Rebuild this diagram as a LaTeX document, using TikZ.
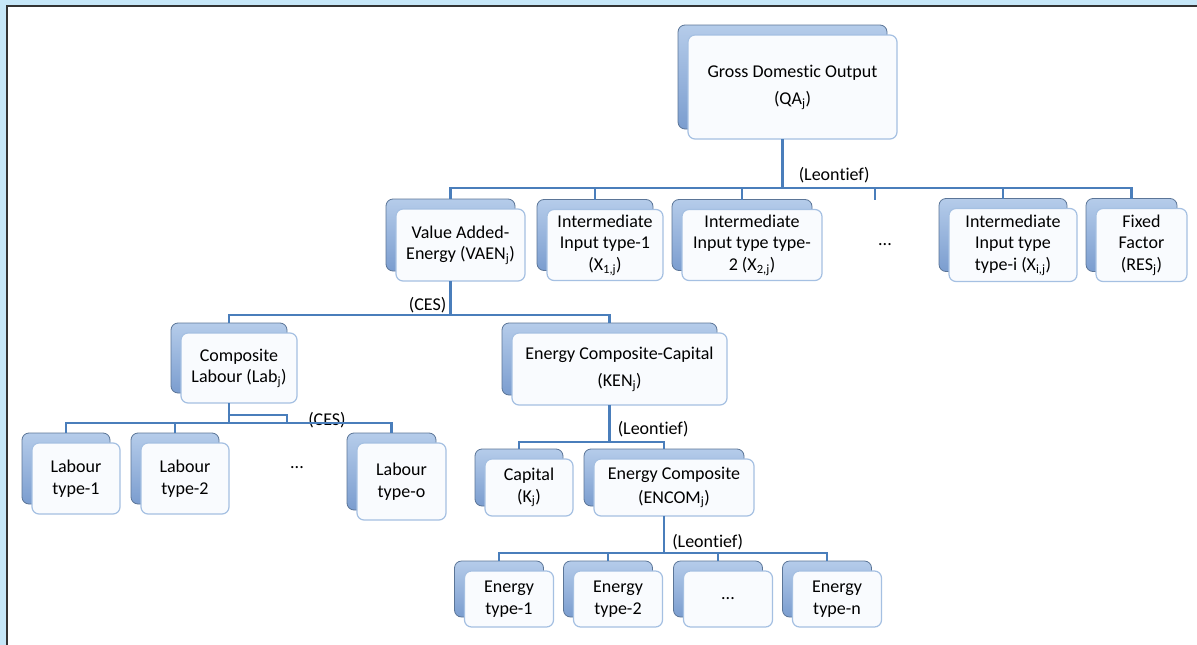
\documentclass[tikz,border=0pt]{standalone}
\usepackage{fontspec}
\setmainfont{Carlito}[Ligatures=CommonOff]
\usepackage{tikz}
\usetikzlibrary{positioning}
\usetikzlibrary{shadows}
\definecolor{linkblue}{HTML}{4A7EBB}
\definecolor{backtop}{HTML}{B5CCEA}
\definecolor{backbot}{HTML}{7B9DCF}
\definecolor{backline}{HTML}{5B7597}
\definecolor{frontline}{HTML}{A5C0E2}
\definecolor{frontfill}{HTML}{F9FBFE}
\definecolor{framebg}{HTML}{C6E7F8}
\tikzstyle{stackbox} = [rectangle, rounded corners=7pt, draw=frontline, fill=frontfill, line width=1.2pt, inner sep=0pt, outer sep=0pt, text centered, font=\fontsize{18}{21.5}\selectfont, general shadow={shadow xshift=-10pt, shadow yshift=10pt, draw=backline, line width=0.8pt, top color=backtop, bottom color=backbot}]
\tikzstyle{dotsbox} = [rectangle, inner sep=0pt, outer sep=0pt, text centered, font=\fontsize{18}{21.5}\selectfont]
\tikzstyle{elast} = [inner sep=0pt, font=\fontsize{18}{21.5}\selectfont]
\tikzstyle{link} = [line width=2.5pt, draw=linkblue]

\begin{document}
\begin{tikzpicture}[x=1pt, y=-1pt, every text node part/.style={align=center}]
		
		\useasboundingbox (0,0) rectangle (1197,645);
		\fill [framebg] (0,0) rectangle (1197,645);
		\fill [white] (7,6) rectangle (1197,645);
		\draw [line width=1.8pt, black!80] (7,645) -- (7,6) -- (1197,6);
		
		\node (gdo) [stackbox, minimum width=209pt, minimum height=104pt] at (792.5,87) {Gross Domestic Output\\[6pt](QA\textsubscript{j})};
		
		\node (vaen) [stackbox, minimum width=129pt, minimum height=72pt] at (460.5,245) {Value Added-\\Energy (VAEN\textsubscript{j})};
		
		\node (int1) [stackbox, minimum width=116pt, minimum height=71pt, right = 22pt of vaen] {Intermediate\\Input type-1\\(X\textsubscript{1,j})};
		
		\node (int2) [stackbox, minimum width=140pt, minimum height=71pt, right = 19pt of int1] {Intermediate\\Input type type-\\2 (X\textsubscript{2,j})};
		
		\node (dotsI) [dotsbox, minimum width=88pt, minimum height=71pt, right = 19pt of int2] {...};
		
		\node (inti) [stackbox, minimum width=128pt, minimum height=73pt, right = 20pt of dotsI] {Intermediate\\Input type\\type-i (X\textsubscript{i,j})};
		
		\node (fixed) [stackbox, minimum width=91pt, minimum height=73pt, right = 19pt of inti] {Fixed\\Factor\\(RES\textsubscript{j})};
		
		\node (lab) [stackbox, minimum width=116pt, minimum height=70pt] at (239,368) {Composite\\Labour (Lab\textsubscript{j})};
		
		\node (ken) [stackbox, minimum width=215pt, minimum height=72pt] at (619.5,369) {Energy Composite-Capital\\[6pt](KEN\textsubscript{j})};
		
		\node (lab1) [stackbox, minimum width=88pt, minimum height=71pt] at (76,478.5) {Labour\\type-1};
		
		\node (lab2) [stackbox, minimum width=88pt, minimum height=71pt, right = 21pt of lab1] {Labour\\type-2};
		
		\node (dotsL) [dotsbox, minimum width=88pt, minimum height=70pt] at (297,468) {...};
		
		\node (labo) [stackbox, minimum width=89pt, minimum height=77pt] at (401.5,481.5) {Labour\\type-o};
		
		\node (cap) [stackbox, minimum width=88pt, minimum height=57pt] at (529,487.5) {Capital\\(K\textsubscript{j})};
		
		\node (encom) [stackbox, minimum width=160pt, minimum height=57pt, right = 21pt of cap] {Energy Composite\\[2pt](ENCOM\textsubscript{j})};
		
		\node (e1) [stackbox, minimum width=89pt, minimum height=56pt] at (509,599) {Energy\\type-1};
		
		\node (e2) [stackbox, minimum width=89pt, minimum height=56pt, right = 20pt of e1] {Energy\\type-2};
		
		\node (edots) [stackbox, minimum width=89pt, minimum height=56pt, right = 21pt of e2] {...};
		
		\node (en) [stackbox, minimum width=89pt, minimum height=56pt, right = 20pt of edots] {Energy\\type-n};
		
		% top level
		\draw [link] ([xshift=-10pt]gdo.south) -- ++(0,49) node[elast, anchor=south west, xshift=15pt, yshift=4pt]{(Leontief)} -| ([xshift=-10pt,yshift=10pt]fixed.north);
		\foreach \kid in {vaen,int1,int2,dotsI,inti}
			\draw [link] ([xshift=-10pt]gdo.south) -- ++(0,49) -| ([xshift=-10pt,yshift=10pt]\kid.north);
		
		% value added
		\draw [link] ([xshift=-10pt]vaen.south) -- ++(0,34) node[elast, anchor=south east, xshift=-3pt, yshift=1pt]{(CES)} -| ([xshift=-10pt,yshift=10pt]ken.north);
		\draw [link] ([xshift=-10pt]vaen.south) -- ++(0,34) -| ([xshift=-10pt,yshift=10pt]lab.north);
		
		% labour
		\draw [link] ([xshift=-10pt]lab.south) -- ++(0,12) node[elast, anchor=west, xshift=78pt, yshift=-5pt]{(CES)} -| ([xshift=-10pt,yshift=10pt]dotsL.north);
		\foreach \kid in {lab1,lab2,labo}
			\draw [link] ([xshift=-10pt]lab.south) -- ++(0,20) -| ([xshift=-10pt,yshift=10pt]\kid.north);
		
		% capital-energy
		\draw [link] ([xshift=-10pt]ken.south) -- ++(0,37) node[elast, anchor=south west, xshift=7pt, yshift=4pt]{(Leontief)} -| ([xshift=-10pt,yshift=10pt]encom.north);
		\draw [link] ([xshift=-10pt]ken.south) -- ++(0,37) -| ([xshift=-10pt,yshift=10pt]cap.north);
		
		% energy
		\draw [link] ([xshift=-10pt]encom.south) -- ++(0,37) node[elast, anchor=south west, xshift=7pt, yshift=2pt]{(Leontief)} -| ([xshift=-10pt,yshift=10pt]en.north);
		\foreach \kid in {e1,e2,edots}
			\draw [link] ([xshift=-10pt]encom.south) -- ++(0,37) -| ([xshift=-10pt,yshift=10pt]\kid.north);
		
\end{tikzpicture}
\end{document}
